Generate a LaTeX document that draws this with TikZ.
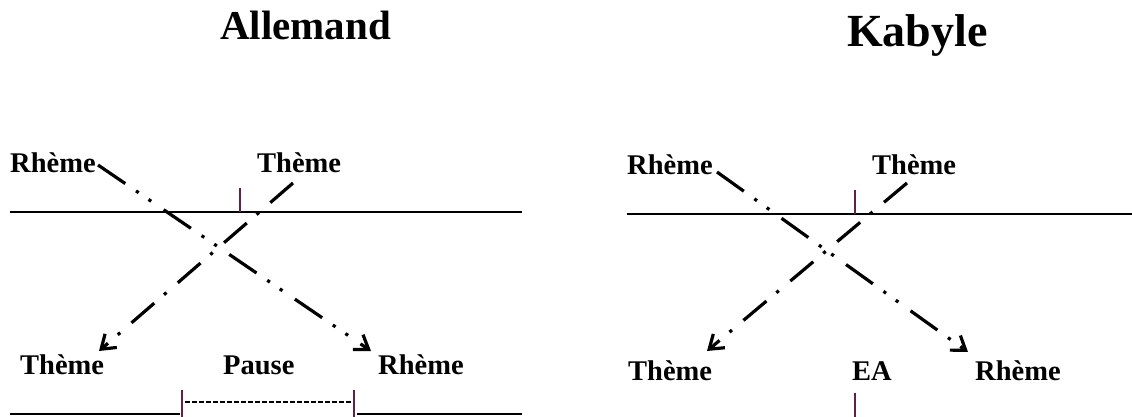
\documentclass[tikz,border=0pt]{standalone}
\usepackage{fontspec}
\setmainfont{Liberation Serif}
\usetikzlibrary{arrows.meta}
\definecolor{tickc}{RGB}{96,32,72}
\tikzset{
 lbl/.style={anchor=base west, inner sep=0pt, font=\fontsize{28.5}{30}\selectfont\bfseries},
 ttl/.style={anchor=base west, inner sep=0pt},
 hline/.style={line width=2pt},
 tickline/.style={draw=tickc, line width=1.3pt},
 ddarrow/.style={line width=3.2pt, dash pattern=on 33pt off 13pt on 3.2pt off 12pt on 3.2pt off 15pt, -{Straight Barb[length=13pt,width=18pt]}},
 darrow/.style={line width=3.2pt, dash pattern=on 30pt off 15pt on 3.2pt off 13pt, -{Straight Barb[length=13pt,width=18pt]}},
 pauseline/.style={line width=1.8pt, dash pattern=on 5pt off 2pt},
}
\begin{document}
\begin{tikzpicture}[x=1pt,y=-1pt]
\useasboundingbox (0,0) rectangle (1132,417);
% titles
\node[ttl, font=\fontsize{41}{44}\selectfont\bfseries] (tA) at (220,40) {Allemand};
\node[ttl, font=\fontsize{46}{50}\selectfont\bfseries] (tK) at (847,47) {Kabyle};

% ===== Allemand =====
\node[lbl] (aR1) at (10,172) {Rhème};
\node[lbl] (aT1) at (257,172) {Thème};
\node[lbl] (aT2) at (20,374) {Thème};
\node[lbl] (aP) at (223,374) {Pause};
\node[lbl] (aR2) at (378,374) {Rhème};

\coordinate (aL1) at (10,212);
\coordinate (aL2) at (522,212);
\draw[hline] (aL1) -- (aL2);
\coordinate (aTk1) at (240,188);
\coordinate (aTk1b) at (240,212);
\draw[tickline] (aTk1) -- (aTk1b);

\coordinate (aS1) at (98,165);
\coordinate (aE1) at (371,351);
\coordinate (aS2) at (293,183);
\coordinate (aE2) at (99,351);
\draw[ddarrow] (aS1) -- (aE1);
\draw[darrow] (aS2) -- (aE2);

\coordinate (aB0) at (10,414);
\coordinate (aB1) at (180,414);
\coordinate (aK1t) at (182,390);
\coordinate (aK1b) at (182,417);
\coordinate (aD1) at (185,402);
\coordinate (aD2) at (351,402);
\coordinate (aK2t) at (354,390);
\coordinate (aK2b) at (354,417);
\coordinate (aB2) at (357,414);
\coordinate (aB3) at (522,414);
\draw[hline] (aB0) -- (aB1);
\draw[tickline] (aK1t) -- (aK1b);
\draw[pauseline] (aD1) -- (aD2);
\draw[tickline] (aK2t) -- (aK2b);
\draw[hline] (aB2) -- (aB3);

% ===== Kabyle =====
\node[lbl] (kR1) at (627,174) {Rhème};
\node[lbl] (kT1) at (872,174) {Thème};
\node[lbl] (kT2) at (628,380) {Thème};
\node[lbl] (kEA) at (852,380) {EA};
\node[lbl] (kR2) at (975,380) {Rhème};

\coordinate (kL1) at (627,214);
\coordinate (kL2) at (1132,214);
\draw[hline] (kL1) -- (kL2);
\coordinate (kTk1) at (855,190);
\coordinate (kTk1b) at (855,214);
\draw[tickline] (kTk1) -- (kTk1b);

\coordinate (kS1) at (717,172);
\coordinate (kE1) at (968,352);
\coordinate (kS2) at (907,183);
\coordinate (kE2) at (707,351);
\draw[ddarrow] (kS1) -- (kE1);
\draw[darrow] (kS2) -- (kE2);

\coordinate (kTk2) at (855,393);
\coordinate (kTk2b) at (855,417);
\draw[tickline] (kTk2) -- (kTk2b);
\end{tikzpicture}
\end{document}
